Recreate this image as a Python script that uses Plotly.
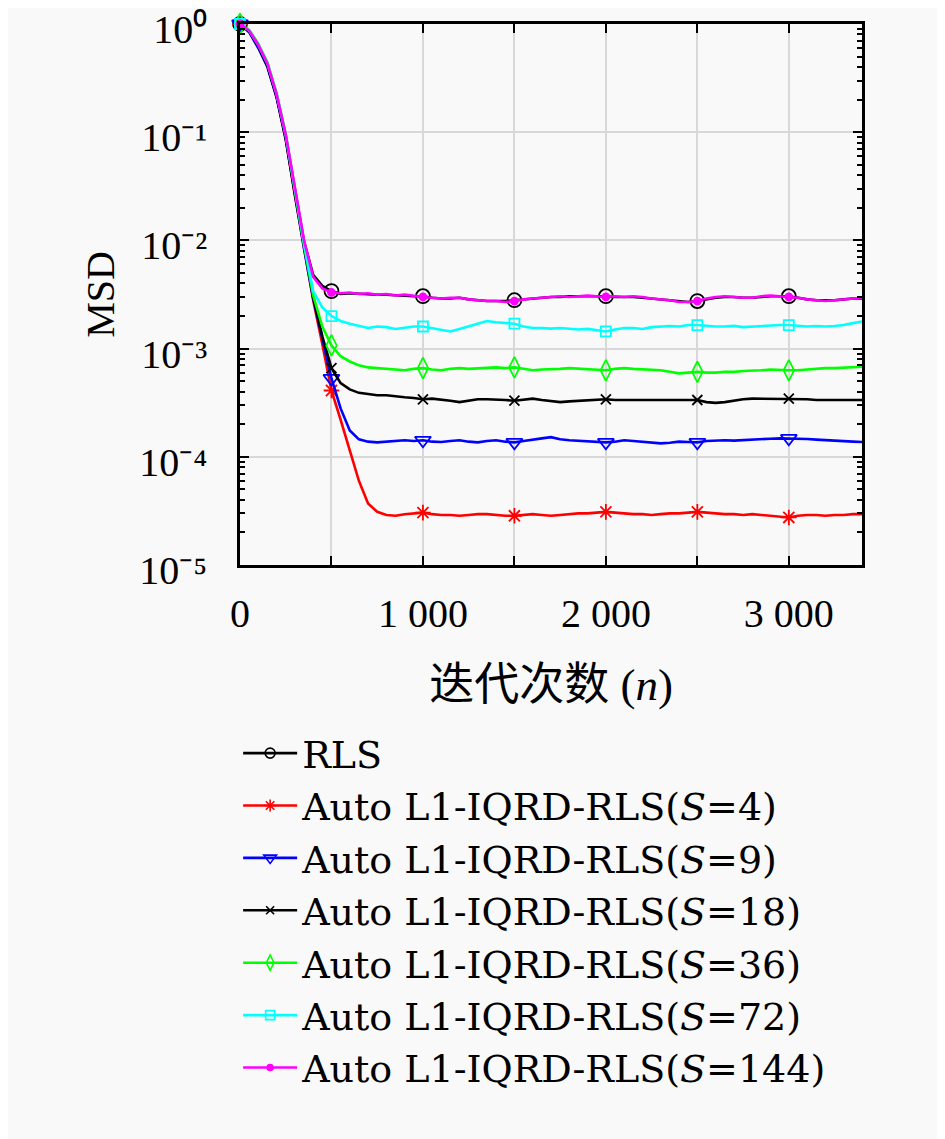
import plotly.graph_objects as go

# iteration index, sampled every 50 iterations
n = list(range(0, 3401, 50))

msd_rls = [1.0, 0.86, 0.63, 0.42, 0.22, 0.092, 0.030, 9.8e-3, 4.8e-3, 3.8e-3,
           3.4e-3, 3.2e-3, 3.25e-3, 3.2e-3, 3.2e-3, 3.15e-3, 3.15e-3, 3.1e-3, 3.1e-3, 3.05e-3,
           3.05e-3, 2.95e-3, 2.9e-3, 2.9e-3, 2.95e-3, 2.85e-3, 2.8e-3, 2.75e-3, 2.75e-3, 2.75e-3,
           2.8e-3, 2.85e-3, 2.9e-3, 2.95e-3, 3.0e-3, 3.0e-3, 3.05e-3, 3.05e-3, 3.05e-3, 3.05e-3,
           3.05e-3, 3.0e-3, 3.0e-3, 3.0e-3, 2.95e-3, 2.9e-3, 2.85e-3, 2.8e-3, 2.75e-3, 2.7e-3,
           2.75e-3, 2.85e-3, 2.95e-3, 3.0e-3, 3.0e-3, 2.95e-3, 2.95e-3, 3.0e-3, 3.05e-3, 3.05e-3,
           3.05e-3, 2.95e-3, 2.85e-3, 2.8e-3, 2.8e-3, 2.8e-3, 2.85e-3, 2.9e-3, 2.9e-3]

msd_s4 = [1.0, 0.85, 0.62, 0.41, 0.21, 0.085, 0.026, 8.2e-3, 2.8e-3, 1.1e-3,
          4.1e-4, 2.2e-4, 1.15e-4, 6.0e-5, 3.7e-5, 3.1e-5, 2.9e-5, 2.85e-5, 2.95e-5, 3.0e-5,
          3.05e-5, 2.95e-5, 2.9e-5, 2.9e-5, 2.85e-5, 2.9e-5, 2.95e-5, 2.95e-5, 2.9e-5, 2.85e-5,
          2.85e-5, 2.9e-5, 2.95e-5, 2.9e-5, 2.85e-5, 2.9e-5, 2.95e-5, 3.0e-5, 3.0e-5, 3.05e-5,
          3.1e-5, 3.05e-5, 3.0e-5, 2.95e-5, 2.95e-5, 2.9e-5, 2.95e-5, 3.0e-5, 3.0e-5, 3.05e-5,
          3.1e-5, 3.05e-5, 3.0e-5, 2.95e-5, 2.95e-5, 2.9e-5, 2.95e-5, 2.9e-5, 2.85e-5, 2.8e-5,
          2.75e-5, 2.85e-5, 2.9e-5, 2.9e-5, 2.85e-5, 2.9e-5, 2.9e-5, 2.95e-5, 2.95e-5]

msd_s9 = [1.0, 0.84, 0.60, 0.40, 0.21, 0.086, 0.027, 8.4e-3, 2.9e-3, 1.2e-3,
          5.3e-4, 2.8e-4, 1.75e-4, 1.45e-4, 1.38e-4, 1.36e-4, 1.38e-4, 1.4e-4, 1.42e-4, 1.4e-4,
          1.42e-4, 1.38e-4, 1.37e-4, 1.4e-4, 1.42e-4, 1.38e-4, 1.36e-4, 1.4e-4, 1.42e-4, 1.38e-4,
          1.36e-4, 1.4e-4, 1.43e-4, 1.48e-4, 1.52e-4, 1.45e-4, 1.42e-4, 1.4e-4, 1.38e-4, 1.36e-4,
          1.36e-4, 1.38e-4, 1.42e-4, 1.4e-4, 1.37e-4, 1.34e-4, 1.33e-4, 1.35e-4, 1.38e-4, 1.37e-4,
          1.36e-4, 1.4e-4, 1.42e-4, 1.42e-4, 1.41e-4, 1.43e-4, 1.44e-4, 1.46e-4, 1.47e-4, 1.48e-4,
          1.48e-4, 1.46e-4, 1.46e-4, 1.44e-4, 1.42e-4, 1.41e-4, 1.4e-4, 1.38e-4, 1.37e-4]

msd_s18 = [1.0, 0.86, 0.62, 0.41, 0.215, 0.088, 0.027, 8.6e-3, 3.0e-3, 1.3e-3,
           6.6e-4, 4.8e-4, 4.2e-4, 3.9e-4, 3.8e-4, 3.7e-4, 3.7e-4, 3.6e-4, 3.55e-4, 3.5e-4,
           3.4e-4, 3.45e-4, 3.4e-4, 3.3e-4, 3.2e-4, 3.3e-4, 3.4e-4, 3.4e-4, 3.4e-4, 3.35e-4,
           3.3e-4, 3.4e-4, 3.45e-4, 3.35e-4, 3.25e-4, 3.2e-4, 3.25e-4, 3.3e-4, 3.35e-4, 3.4e-4,
           3.4e-4, 3.35e-4, 3.35e-4, 3.4e-4, 3.4e-4, 3.4e-4, 3.4e-4, 3.35e-4, 3.35e-4, 3.4e-4,
           3.35e-4, 3.2e-4, 3.15e-4, 3.2e-4, 3.3e-4, 3.4e-4, 3.45e-4, 3.45e-4, 3.4e-4, 3.45e-4,
           3.45e-4, 3.4e-4, 3.4e-4, 3.35e-4, 3.35e-4, 3.4e-4, 3.4e-4, 3.35e-4, 3.35e-4]

msd_s36 = [1.0, 0.88, 0.66, 0.44, 0.23, 0.095, 0.029, 9.0e-3, 3.1e-3, 1.6e-3,
           1.07e-3, 8.5e-4, 7.6e-4, 7.0e-4, 6.7e-4, 6.6e-4, 6.5e-4, 6.4e-4, 6.3e-4, 6.5e-4,
           6.6e-4, 6.4e-4, 6.3e-4, 6.5e-4, 6.6e-4, 6.5e-4, 6.6e-4, 6.7e-4, 6.7e-4, 6.6e-4,
           6.7e-4, 6.5e-4, 6.3e-4, 6.4e-4, 6.4e-4, 6.5e-4, 6.6e-4, 6.5e-4, 6.5e-4, 6.4e-4,
           6.3e-4, 6.5e-4, 6.6e-4, 6.5e-4, 6.4e-4, 6.3e-4, 6.3e-4, 6.1e-4, 5.9e-4, 6.0e-4,
           6.1e-4, 6.0e-4, 6.0e-4, 6.1e-4, 6.1e-4, 6.2e-4, 6.3e-4, 6.3e-4, 6.4e-4, 6.3e-4,
           6.3e-4, 6.3e-4, 6.4e-4, 6.4e-4, 6.6e-4, 6.6e-4, 6.7e-4, 6.7e-4, 6.8e-4]

msd_s72 = [1.0, 0.87, 0.64, 0.43, 0.225, 0.094, 0.030, 9.4e-3, 3.4e-3, 2.4e-3,
           2.0e-3, 1.8e-3, 1.7e-3, 1.62e-3, 1.55e-3, 1.6e-3, 1.58e-3, 1.52e-3, 1.55e-3, 1.6e-3,
           1.6e-3, 1.55e-3, 1.5e-3, 1.44e-3, 1.52e-3, 1.6e-3, 1.7e-3, 1.8e-3, 1.75e-3, 1.72e-3,
           1.7e-3, 1.6e-3, 1.55e-3, 1.55e-3, 1.53e-3, 1.55e-3, 1.52e-3, 1.5e-3, 1.52e-3, 1.48e-3,
           1.44e-3, 1.5e-3, 1.55e-3, 1.55e-3, 1.52e-3, 1.58e-3, 1.6e-3, 1.62e-3, 1.6e-3, 1.65e-3,
           1.65e-3, 1.62e-3, 1.6e-3, 1.6e-3, 1.62e-3, 1.58e-3, 1.6e-3, 1.62e-3, 1.63e-3, 1.65e-3,
           1.65e-3, 1.62e-3, 1.6e-3, 1.62e-3, 1.6e-3, 1.62e-3, 1.65e-3, 1.72e-3, 1.78e-3]

msd_s144 = [1.0, 0.87, 0.64, 0.43, 0.225, 0.095, 0.031, 0.010, 4.6e-3, 3.6e-3,
            3.3e-3, 3.25e-3, 3.3e-3, 3.2e-3, 3.25e-3, 3.15e-3, 3.2e-3, 3.1e-3, 3.15e-3, 3.05e-3,
            3.0e-3, 2.95e-3, 2.9e-3, 2.95e-3, 2.95e-3, 2.85e-3, 2.8e-3, 2.75e-3, 2.75e-3, 2.7e-3,
            2.75e-3, 2.85e-3, 2.9e-3, 2.95e-3, 3.0e-3, 3.05e-3, 3.0e-3, 3.05e-3, 3.1e-3, 3.05e-3,
            3.0e-3, 3.05e-3, 3.0e-3, 3.05e-3, 3.0e-3, 2.9e-3, 2.85e-3, 2.8e-3, 2.7e-3, 2.7e-3,
            2.75e-3, 2.9e-3, 3.0e-3, 3.05e-3, 3.0e-3, 2.95e-3, 2.95e-3, 3.05e-3, 3.1e-3, 3.05e-3,
            3.0e-3, 2.95e-3, 2.85e-3, 2.8e-3, 2.75e-3, 2.8e-3, 2.85e-3, 2.9e-3, 2.95e-3]

names = ["RLS",
         "Auto L1-IQRD-RLS(<i>S</i>=4)",
         "Auto L1-IQRD-RLS(<i>S</i>=9)",
         "Auto L1-IQRD-RLS(<i>S</i>=18)",
         "Auto L1-IQRD-RLS(<i>S</i>=36)",
         "Auto L1-IQRD-RLS(<i>S</i>=72)",
         "Auto L1-IQRD-RLS(<i>S</i>=144)"]

x_tickvals = [0, 500, 1000, 1500, 2000, 2500, 3000]
x_ticktext = ["0", "", "1 000", "", "2 000", "", "3 000"]
y_tickvals = [1e-5, 1e-4, 1e-3, 1e-2, 1e-1, 1]
y_ticktext = ["10\u207b\u2075", "10\u207b\u2074", "10\u207b\u00b3",
              "10\u207b\u00b2", "10\u207b\u00b9", "10\u2070"]

series = [msd_rls, msd_s4, msd_s9, msd_s18, msd_s36, msd_s72, msd_s144]
# (colour, symbol, marker size on curve, marker size in legend)
styles = [("#000000", "circle-open", 14, 10),
          ("#ff0000", "asterisk-open", 13, 10),
          ("#0000ff", "triangle-down-open", 14, 11),
          ("#000000", "x-thin-open", 10, 8),
          ("#00ff00", "diamond-tall-open", 15, 11),
          ("#00ffff", "square-open", 10, 9),
          ("#ff00ff", "circle", 7, 6)]

SERIF = '"Liberation Serif", "Noto Sans CJK SC", serif'
LEGEND_FONT = '"DejaVu Serif", serif'
MARK_EVERY = 10

fig = go.Figure()
for vals, name, (col, sym, msize, lsize) in zip(series, names, styles):
    fig.add_trace(go.Scatter(x=n, y=vals, mode="lines", showlegend=False,
                             line=dict(color=col, width=2.6), hoverinfo="skip"))
    fig.add_trace(go.Scatter(x=n[::MARK_EVERY], y=vals[::MARK_EVERY], mode="markers",
                             showlegend=False, cliponaxis=False,
                             marker=dict(symbol=sym, size=msize, color=col,
                                         line=dict(color=col, width=1.8))))
    # legend entry only
    fig.add_trace(go.Scatter(x=[None], y=[None], mode="lines+markers", name=name,
                             line=dict(color=col, width=2.6),
                             marker=dict(symbol=sym, size=lsize, color=col,
                                         line=dict(color=col, width=1.6))))

axis_common = dict(showline=True, linecolor="black", linewidth=2.5, mirror="ticks",
                   ticks="inside", tickcolor="black", tickwidth=2, ticklen=9,
                   showgrid=True, gridcolor="#d8d8d8", gridwidth=1.5, zeroline=False,
                   ticklabeloverflow="allow", automargin=False,
                   tickfont=dict(family=SERIF, size=40, color="black"))

fig.update_xaxes(range=[0, 3400], tickmode="array", tickvals=x_tickvals,
                 ticktext=x_ticktext, ticklabelstandoff=11,
                 title=dict(text="迭代次数 (<i>n</i>)", standoff=34,
                            font=dict(family=SERIF, size=45, color="black")),
                 **axis_common)
fig.update_yaxes(type="log", range=[-5, 0], tickmode="array", tickvals=y_tickvals,
                 ticktext=y_ticktext, ticklabelstandoff=22, ticklabelshift=5,
                 minor=dict(ticks="inside", ticklen=5, tickwidth=1.5, tickcolor="black",
                            dtick="D1", showgrid=False),
                 title=dict(text="MSD", standoff=13,
                            font=dict(family=SERIF, size=40, color="black")),
                 **axis_common)

# page body adds an 8 px offset, so the figure is drawn 8 px smaller
fig.update_layout(
    width=937, height=1131,
    margin=dict(l=232, r=83, t=16, b=574),
    paper_bgcolor="#f9f9f9", plot_bgcolor="#f9f9f9",
    font=dict(family=SERIF, color="black"),
    legend=dict(x=-0.003, y=-0.29, xanchor="left", yanchor="top",
                bgcolor="rgba(0,0,0,0)", font=dict(family=LEGEND_FONT, size=38),
                itemwidth=54, tracegroupgap=0),
)

fig.write_html("out.html")
